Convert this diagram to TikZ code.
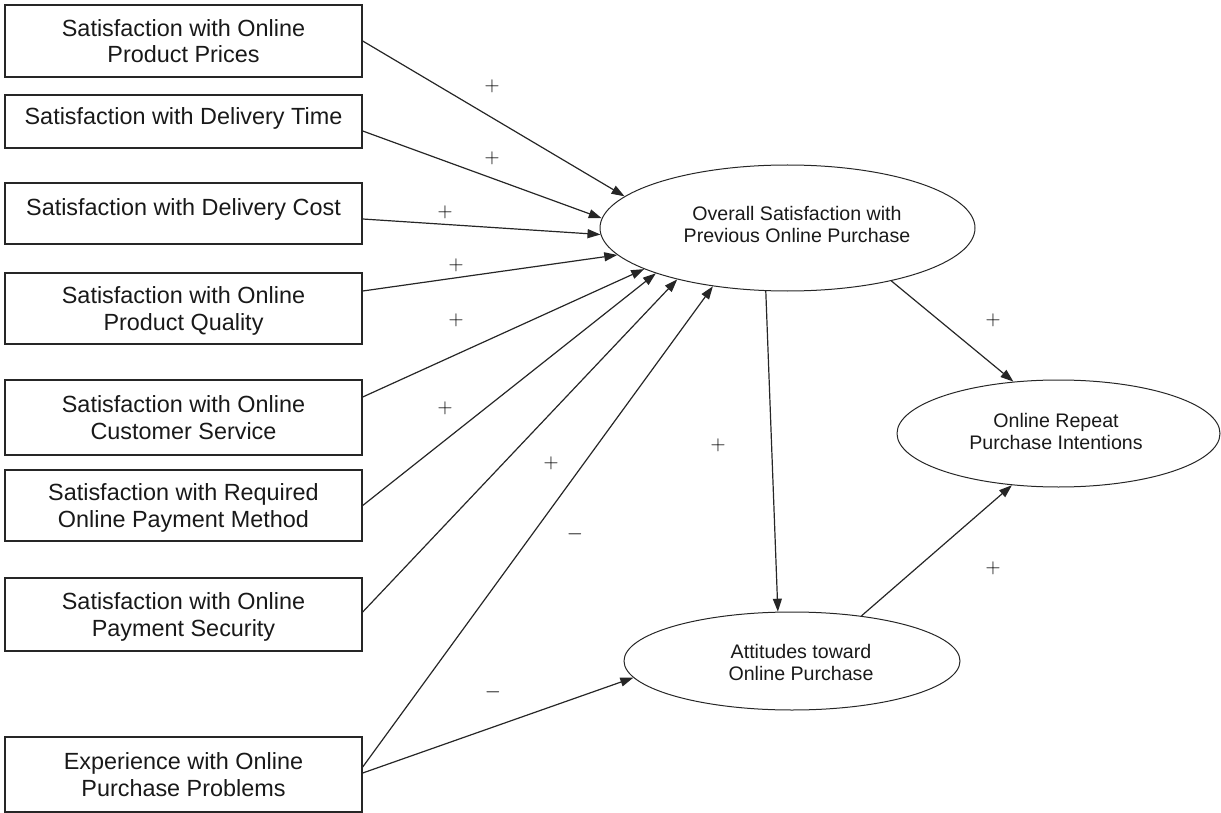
\documentclass[tikz,border=0pt]{standalone}
\usepackage{fontspec}
\setmainfont{Liberation Sans}
\usetikzlibrary{arrows.meta,shapes.geometric}

\begin{document}
\begin{tikzpicture}[x=1pt,y=-1pt,
  factor/.style={draw=black!85, line width=1.4pt, rectangle, minimum width=357pt,
    inner sep=0pt, align=center, text depth=0pt, text=black!90,
    font=\fontsize{23.4}{26.6}\selectfont},
  construct/.style={draw=black!85, line width=1pt, ellipse, inner sep=0pt},
  ctext/.style={align=center, inner sep=0pt, text depth=0pt, text=black!90,
    font=\fontsize{19.6}{22}\selectfont},
  link/.style={draw=black!85, line width=1.2pt, -{Triangle[length=13pt,width=9pt]}},
  signlbl/.style={inner sep=0pt, text=black, font=\fontsize{21}{21}\selectfont}
]
\useasboundingbox (0,0) rectangle (1221,813);

% antecedent factors
\node[factor, minimum height=72pt] (b1) at (183.5,41)
  {Satisfaction with Online\\Product Prices};
\node[factor, minimum height=53pt, text depth=10pt] (b2) at (183.5,121.5)
  {Satisfaction with Delivery Time};
\node[factor, minimum height=61pt, text depth=12.4pt] (b3) at (183.5,213.5)
  {Satisfaction with Delivery Cost};
\node[factor, minimum height=71pt] (b4) at (183.5,308.5)
  {Satisfaction with Online\\Product Quality};
\node[factor, minimum height=75pt] (b5) at (183.5,417.5)
  {Satisfaction with Online\\Customer Service};
\node[factor, minimum height=71pt] (b6) at (183.5,505.5)
  {Satisfaction with Required\\Online Payment Method};
\node[factor, minimum height=73pt] (b7) at (183.5,614.5)
  {Satisfaction with Online\\Payment Security};
\node[factor, minimum height=75pt] (b8) at (183.5,774.5)
  {Experience with Online\\Purchase Problems};

% latent constructs
\node[construct, minimum width=375pt, minimum height=126pt] (os) at (787.5,228) {};
\node[ctext] (ost) at (797,224.5) {Overall Satisfaction with\\Previous Online Purchase};
\node[construct, minimum width=323pt, minimum height=107pt] (rep) at (1058.5,433.5) {};
\node[ctext] (rept) at (1056,431) {Online Repeat\\Purchase Intentions};
\node[construct, minimum width=336pt, minimum height=98pt] (att) at (792,661) {};
\node[ctext] (attt) at (801,662) {Attitudes toward\\Online Purchase};

% paths into overall satisfaction
\draw[link] (b1.east) -- (os.169.7);
\draw[link] ([yshift=-9.5pt]b2.east) -- (os.177.8);
\draw[link] ([yshift=-5.5pt]b3.east) -- (os.182.8);
\draw[link] ([yshift=17.5pt]b4.east) -- (os.189.5);
\draw[link] ([yshift=20.5pt]b5.east) -- (os.196.5);
\draw[link] (b6.east) -- (os.199.5);
\draw[link] ([yshift=2.5pt]b7.east) -- (os.205);
\draw[link] ([yshift=7.5pt]b8.east) -- (os.218);
\draw[link] ([yshift=1.5pt]b8.east) -- (att.186.3);

% structural paths
\draw[link] (os.251.4) -- (att.106);
\draw[link] (os.333) -- (rep.131.2);
\draw[link] (att.33) -- (rep.228.8);

% path signs
\node[signlbl] (s1) at (492,86) {$+$};
\node[signlbl] (s2) at (492,158) {$+$};
\node[signlbl] (s3) at (445,212) {$+$};
\node[signlbl] (s4) at (456,265) {$+$};
\node[signlbl] (s5) at (456,320) {$+$};
\node[signlbl] (s6) at (445,408) {$+$};
\node[signlbl] (s7) at (551,463) {$+$};
\node[signlbl] (s8) at (575,534) {$-$};
\node[signlbl] (s9) at (493,692) {$-$};
\node[signlbl] (s10) at (718,445) {$+$};
\node[signlbl] (s11) at (993,320) {$+$};
\node[signlbl] (s12) at (993,568) {$+$};
\end{tikzpicture}
\end{document}
